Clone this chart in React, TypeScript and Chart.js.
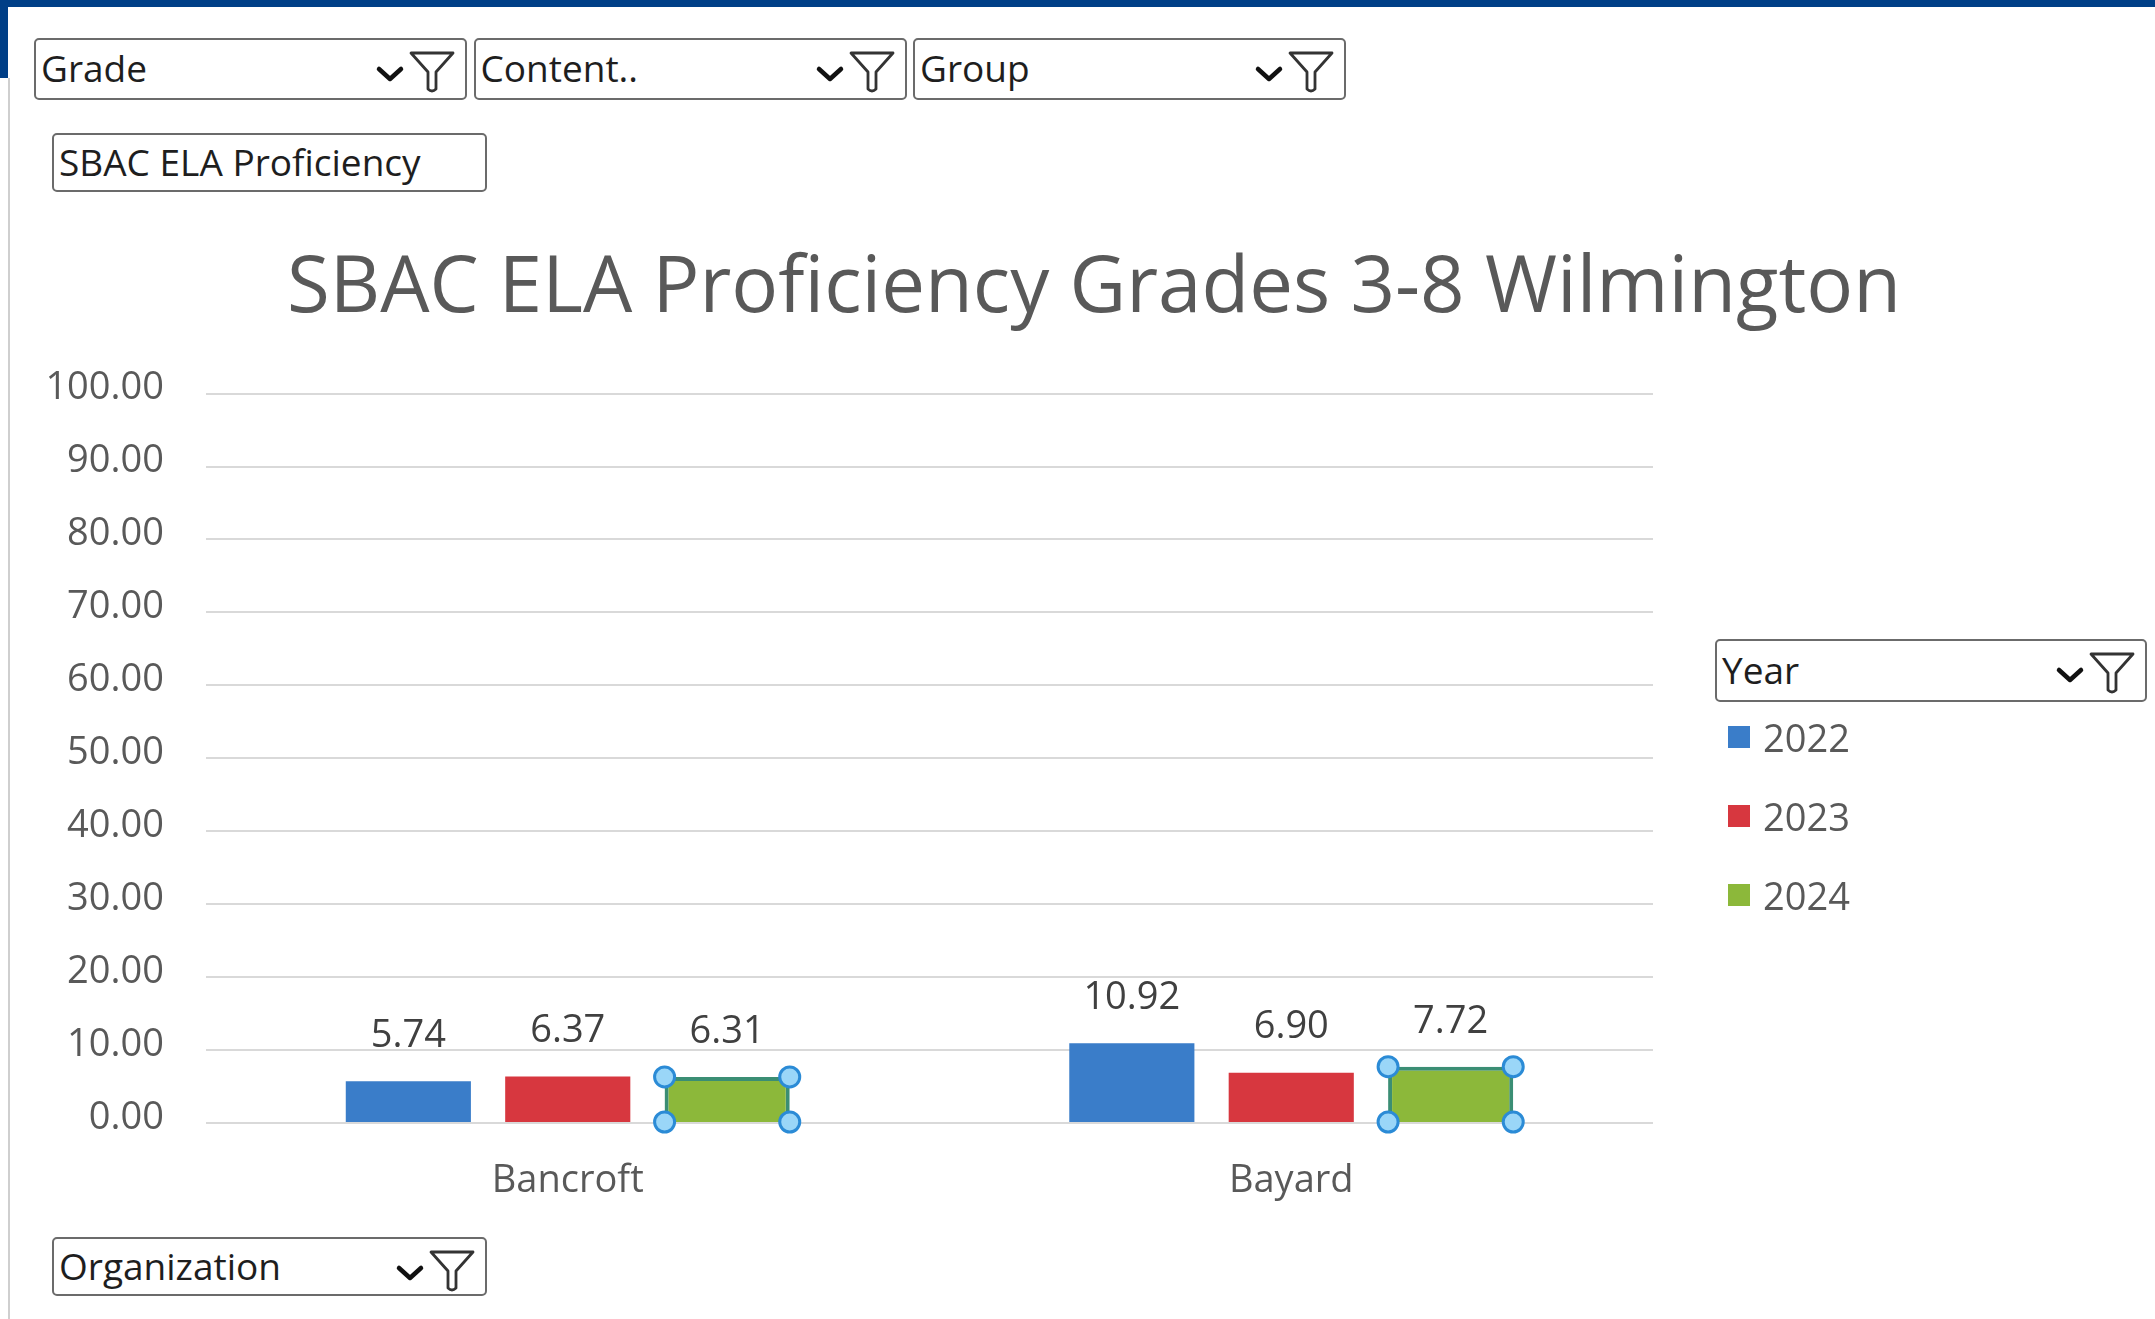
import React, { useEffect, useRef } from "react";
import { Chart, registerables } from "chart.js";

Chart.register(...registerables);

// ---------- data ----------
const categories = ["Bancroft", "Bayard"];
const years = ["2022", "2023", "2024"];
const values2022 = [5.74, 10.92];
const values2023 = [6.37, 6.9];
const values2024 = [6.31, 7.72];
const seriesColors = ["#3a7dc9", "#d7373f", "#8cb83a"];
const yMin = 0;
const yMax = 100;
const yStep = 10;
const chartTitle = "SBAC ELA Proficiency Grades 3-8 Wilmington";
const topFields = ["Grade", "Content..", "Group"];
const reportField = "SBAC ELA Proficiency";
const legendField = "Year";
const axisField = "Organization";

const FONT = "'Open Sans', 'Noto Sans', sans-serif";
const W = 2155;
const H = 1319;

const dataLabelPlugin = {
  id: "dataLabels",
  afterDatasetsDraw(chart: any) {
    const ctx = chart.ctx;
    ctx.save();
    ctx.font = `38px ${FONT}`;
    ctx.fillStyle = "#404040";
    ctx.textAlign = "center";
    ctx.textBaseline = "middle";
    chart.data.datasets.forEach((ds: any, i: number) => {
      const meta = chart.getDatasetMeta(i);
      meta.data.forEach((el: any, j: number) => {
        ctx.fillText(Number(ds.data[j]).toFixed(2), el.x, el.y - 45);
      });
    });
    ctx.restore();
  },
};

const selectionPlugin = {
  id: "selectionHandles",
  afterDatasetsDraw(chart: any) {
    const ctx = chart.ctx;
    const meta = chart.getDatasetMeta(2);
    ctx.save();
    meta.data.forEach((el: any) => {
      const p = el.getProps(["x", "y", "base", "width"], true);
      const l = p.x - p.width / 2;
      const r = p.x + p.width / 2;
      const corners = [
        [l, p.y],
        [r, p.y],
        [l, p.base],
        [r, p.base],
      ];
      corners.forEach(([cx, cy]) => {
        ctx.beginPath();
        ctx.arc(cx, cy, 10, 0, Math.PI * 2);
        ctx.fillStyle = "#9ad6f8";
        ctx.fill();
        ctx.lineWidth = 3;
        ctx.strokeStyle = "#2b8bd6";
        ctx.stroke();
      });
    });
    ctx.restore();
  },
};

function FieldButton(props: {
  label: string;
  left: number;
  top: number;
  width: number;
  height: number;
  icons?: boolean;
}) {
  const { label, left, top, width, height, icons = true } = props;
  return (
    <div
      style={{
        position: "absolute",
        left,
        top,
        width,
        height,
        boxSizing: "border-box",
        border: "2px solid #6b6b6b",
        borderRadius: 5,
        background: "#fff",
        fontFamily: FONT,
        fontSize: 37,
        color: "#1e1e1e",
        lineHeight: `${height - 6}px`,
        paddingLeft: 5,
        whiteSpace: "nowrap",
        zIndex: 2,
      }}
    >
      {label}
      {icons && (
        <svg
          style={{ position: "absolute", right: 6, top: 0 }}
          width={88}
          height={height - 4}
          viewBox={`0 0 88 ${height - 4}`}
        >
          <path
            d="M8 29 L19 39 L30 29"
            fill="none"
            stroke="#111"
            strokeWidth={4.5}
            strokeLinecap="round"
            strokeLinejoin="round"
          />
          <path
            d="M40 13 L82 13 L65 32 L65 49 Q61 53 57 49 L57 32 Z"
            fill="none"
            stroke="#333"
            strokeWidth={2.8}
            strokeLinejoin="round"
          />
        </svg>
      )}
    </div>
  );
}

export default function App() {
  const canvasRef = useRef<HTMLCanvasElement | null>(null);

  useEffect(() => {
    if (!canvasRef.current) return;
    Chart.defaults.font.family = FONT;
    const seriesValues = [values2022, values2023, values2024];
    const chart = new Chart(canvasRef.current, {
      type: "bar",
      data: {
        labels: categories,
        datasets: years.map((y, i) => ({
          label: y,
          data: seriesValues[i],
          backgroundColor: seriesColors[i],
          borderColor: i === 2 ? "#3b8e74" : seriesColors[i],
          borderWidth: i === 2 ? 4 : 0,
          categoryPercentage: 0.661,
          barPercentage: 0.785,
        })),
      },
      options: {
        responsive: false,
        animation: false,
        layout: { padding: { left: 33, right: 0, top: 0, bottom: 0 } },
        plugins: {
          legend: { display: false },
          tooltip: { enabled: false },
          title: {
            display: true,
            text: chartTitle,
            color: "#595959",
            font: { family: FONT, size: 78, weight: "normal" },
            padding: { top: 243, bottom: 57 },
          },
        },
        scales: {
          x: {
            grid: { display: false },
            border: { display: false },
            ticks: {
              color: "#595959",
              font: { family: FONT, size: 38 },
              padding: 27,
            },
            afterFit: (s: any) => {
              s.height = 196;
            },
          },
          y: {
            min: yMin,
            max: yMax,
            ticks: {
              stepSize: yStep,
              callback: (v: any) => Number(v).toFixed(2),
              padding: 42,
              labelOffset: -5,
              color: "#595959",
              font: { family: FONT, size: 38 },
            },
            grid: { color: "#d9d9d9", lineWidth: 2, drawTicks: false },
            border: { display: false },
            afterFit: (s: any) => {
              s.width = 173;
            },
          },
          y2: {
            type: "linear",
            position: "right",
            display: true,
            grid: { display: false },
            border: { display: false },
            ticks: { display: false },
            afterFit: (s: any) => {
              s.width = 502;
            },
          },
        },
      } as any,
      plugins: [dataLabelPlugin, selectionPlugin],
    });
    return () => chart.destroy();
  }, []);

  return (
    <div
      style={{
        position: "absolute",
        left: 0,
        top: 0,
        width: W,
        height: H,
        overflow: "hidden",
        background: "#fff",
      }}
    >
      <canvas
        ref={canvasRef}
        width={W}
        height={H}
        style={{ position: "absolute", left: 0, top: 0, width: W, height: H, display: "block" }}
      />
      {/* window frame */}
      <div style={{ position: "absolute", left: 0, top: 0, width: W, height: 7, background: "#003f87", zIndex: 3 }} />
      <div style={{ position: "absolute", left: 0, top: 0, width: 8, height: 78, background: "#003f87", zIndex: 3 }} />
      <div style={{ position: "absolute", left: 8, top: 78, width: 2, height: H - 78, background: "#cfcfcf", zIndex: 3 }} />

      {topFields.map((f, i) => (
        <FieldButton key={f} label={f} left={34 + i * 439.5} top={38} width={433} height={62} />
      ))}
      <FieldButton label={reportField} left={52} top={133} width={435} height={59} icons={false} />
      <FieldButton label={legendField} left={1715} top={639} width={432} height={63} />
      <FieldButton label={axisField} left={52} top={1237} width={435} height={59} />

      {years.map((y, i) => (
        <div
          key={y}
          style={{
            position: "absolute",
            left: 1728,
            top: 737 + i * 79 - 28,
            height: 56,
            display: "flex",
            alignItems: "center",
            fontFamily: FONT,
            fontSize: 38,
            color: "#595959",
            zIndex: 2,
          }}
        >
          <span style={{ display: "inline-block", width: 22, height: 22, background: seriesColors[i], marginRight: 13 }} />
          {y}
        </div>
      ))}
    </div>
  );
}
